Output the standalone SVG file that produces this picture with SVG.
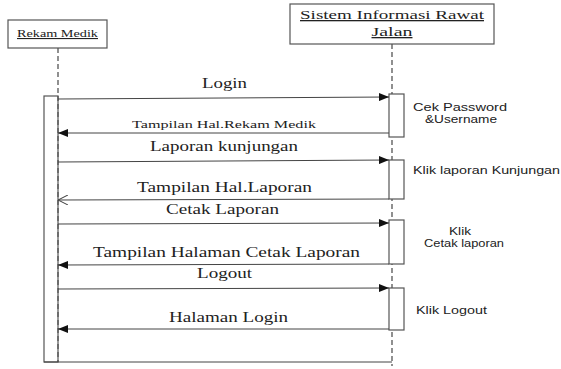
<svg xmlns="http://www.w3.org/2000/svg" width="561" height="369" viewBox="0 0 561 369">
<defs>
<style>
.box{fill:#fff;stroke:#555;stroke-width:1.2}
.life{stroke:#555;stroke-width:1.3;stroke-dasharray:5,3;fill:none}
.msg{stroke:#444;stroke-width:1;fill:none}
.serif{font-family:"Liberation Serif","Times New Roman",serif;fill:#222}
.sans{font-family:"Liberation Sans",Arial,sans-serif;fill:#222;font-size:10px}
.lbl{font-size:14px}
</style>
<marker id="fill" markerWidth="10" markerHeight="8" refX="10" refY="4" orient="auto" markerUnits="userSpaceOnUse">
<path d="M0,0 L10,4 L0,8 Z" fill="#111"/>
</marker>
<marker id="open" markerWidth="10" markerHeight="10" refX="10" refY="5" orient="auto" markerUnits="userSpaceOnUse">
<path d="M0,0 L10,5 L0,10" fill="none" stroke="#444" stroke-width="1"/>
</marker>
</defs>
<rect width="561" height="369" fill="#fff"/>

<g id="rekam-medik">
<rect class="box" x="8" y="20" width="99" height="28"/>
<text class="serif" x="57.5" y="37" font-size="11" text-anchor="middle" text-decoration="underline" textLength="81" lengthAdjust="spacingAndGlyphs">Rekam Medik</text>
<line class="life" x1="58" y1="48" x2="58" y2="96"/>
<rect class="box" x="44" y="96" width="14" height="266"/>
<line class="life" x1="58" y1="96" x2="58" y2="362"/>
</g>

<g id="sistem-informasi">
<rect class="box" x="290" y="4" width="204" height="40"/>
<text class="serif" x="392" y="19" font-size="13" text-anchor="middle" text-decoration="underline" textLength="184" lengthAdjust="spacingAndGlyphs">Sistem Informasi Rawat</text>
<text class="serif" x="392" y="36" font-size="13" text-anchor="middle" text-decoration="underline" textLength="41" lengthAdjust="spacingAndGlyphs">Jalan</text>
<line class="life" x1="392" y1="44" x2="392" y2="366"/>
<rect class="box" x="389" y="94" width="15" height="43"/>
<rect class="box" x="389" y="160" width="15" height="39"/>
<rect class="box" x="389" y="220" width="15" height="44"/>
<rect class="box" x="389" y="288" width="15" height="42"/>
</g>

<g id="notes">
<text class="sans" x="460" y="111" text-anchor="middle" textLength="94" lengthAdjust="spacingAndGlyphs">Cek Password</text>
<text class="sans" x="461" y="123" text-anchor="middle" textLength="72" lengthAdjust="spacingAndGlyphs">&amp;Username</text>
<text class="sans" x="413" y="174" textLength="147" lengthAdjust="spacingAndGlyphs">Klik laporan Kunjungan</text>
<text class="sans" x="460" y="235" text-anchor="middle" textLength="22" lengthAdjust="spacingAndGlyphs">Klik</text>
<text class="sans" x="464" y="247" text-anchor="middle" textLength="80" lengthAdjust="spacingAndGlyphs">Cetak laporan</text>
<text class="sans" x="416" y="314" textLength="71" lengthAdjust="spacingAndGlyphs">Klik Logout</text>
</g>

<g id="connectors">
<line class="msg" x1="58" y1="99" x2="389" y2="97" marker-end="url(#fill)"/>
<text class="serif lbl" x="224.5" y="88" text-anchor="middle" textLength="45" lengthAdjust="spacingAndGlyphs">Login</text>

<line class="msg" x1="389" y1="133" x2="58" y2="133" marker-end="url(#fill)"/>
<text class="serif" x="224" y="128" font-size="11" text-anchor="middle" textLength="184" lengthAdjust="spacingAndGlyphs">Tampilan Hal.Rekam Medik</text>

<line class="msg" x1="58" y1="162" x2="389" y2="160" marker-end="url(#fill)"/>
<text class="serif lbl" x="224" y="151" text-anchor="middle" textLength="148" lengthAdjust="spacingAndGlyphs">Laporan kunjungan</text>

<line class="msg" x1="389" y1="199" x2="58" y2="200" marker-end="url(#open)"/>
<text class="serif lbl" x="224.5" y="192" text-anchor="middle" textLength="175" lengthAdjust="spacingAndGlyphs">Tampilan Hal.Laporan</text>

<line class="msg" x1="58" y1="224" x2="389" y2="223" marker-end="url(#fill)"/>
<text class="serif lbl" x="222.5" y="214" text-anchor="middle" textLength="113" lengthAdjust="spacingAndGlyphs">Cetak Laporan</text>

<line class="msg" x1="389" y1="264" x2="58" y2="265" marker-end="url(#fill)"/>
<text class="serif lbl" x="226.5" y="257" text-anchor="middle" textLength="267" lengthAdjust="spacingAndGlyphs">Tampilan Halaman Cetak Laporan</text>

<line class="msg" x1="58" y1="289" x2="389" y2="288" marker-end="url(#fill)"/>
<text class="serif lbl" x="224.5" y="278" text-anchor="middle" textLength="55" lengthAdjust="spacingAndGlyphs">Logout</text>

<line class="msg" x1="389" y1="329" x2="58" y2="329" marker-end="url(#fill)"/>
<text class="serif lbl" x="228.5" y="322" text-anchor="middle" textLength="119" lengthAdjust="spacingAndGlyphs">Halaman Login</text>

<line class="msg" x1="44" y1="362" x2="392" y2="362"/>
</g>
</svg>
